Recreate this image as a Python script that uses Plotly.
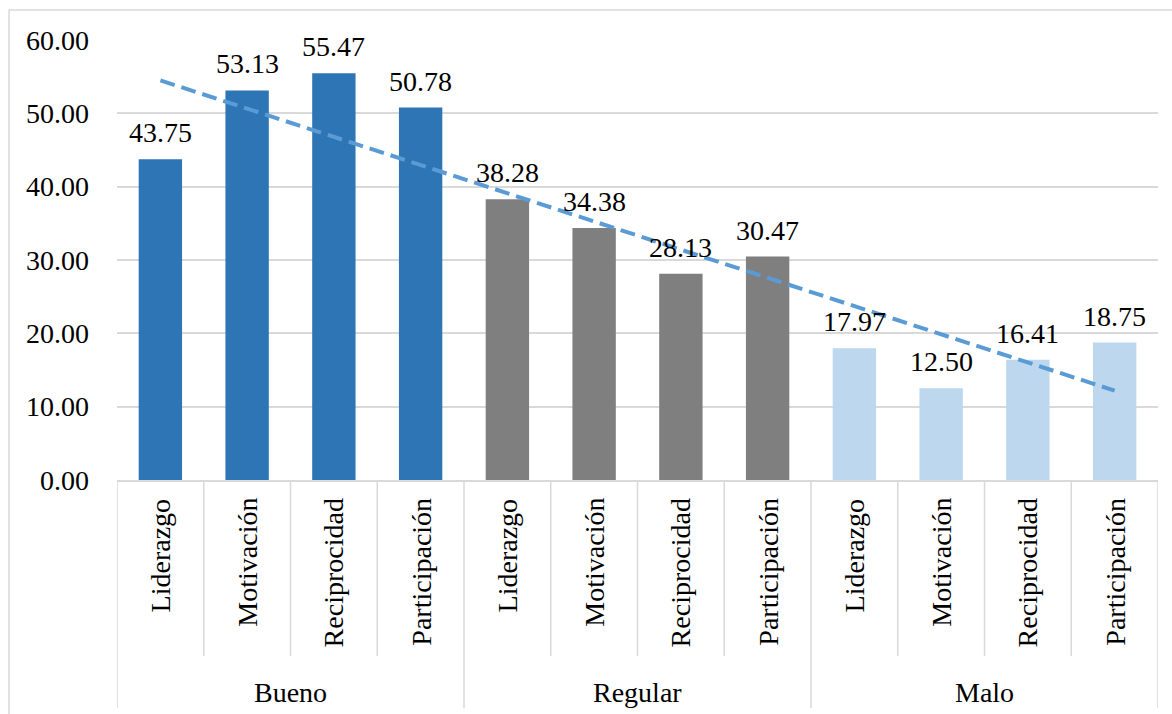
import numpy as np
import plotly.graph_objects as go

groups = ["Bueno", "Regular", "Malo"]
dimensions = ["Liderazgo", "Motivación", "Reciprocidad", "Participación"]
bueno = [43.75, 53.13, 55.47, 50.78]
regular = [38.28, 34.38, 28.13, 30.47]
malo = [17.97, 12.50, 16.41, 18.75]
y_ticks = [0, 10, 20, 30, 40, 50, 60]

group_colors = {"Bueno": "#2E75B6", "Regular": "#7F7F7F", "Malo": "#BDD7EE"}
series = {"Bueno": bueno, "Regular": regular, "Malo": malo}

FONT = "Liberation Serif, Times New Roman, serif"
FS = 28
GRID = "#D9D9D9"

fig = go.Figure()

all_vals = []
n_dim = len(dimensions)
for gi, g in enumerate(groups):
    xs = [gi * n_dim + k for k in range(n_dim)]
    vals = series[g]
    all_vals += vals
    fig.add_trace(go.Bar(x=xs, y=vals, marker_color=group_colors[g],
                         marker_line_width=0, width=0.5, showlegend=False,
                         hoverinfo="skip"))

xs_all = np.arange(len(all_vals))
coef = np.polyfit(xs_all, np.array(all_vals), 1)
trend = np.polyval(coef, xs_all)
fig.add_trace(go.Scatter(x=[xs_all[0], xs_all[-1]], y=[trend[0], trend[-1]],
                         mode="lines", line=dict(color="#5B9BD5", width=4, dash="15px,7px"),
                         showlegend=False, hoverinfo="skip"))

# data labels
for i, v in enumerate(all_vals):
    fig.add_annotation(x=i, y=v, text=f"{v:.2f}", showarrow=False,
                       xref="x", yref="y", yanchor="bottom", yshift=9,
                       font=dict(family=FONT, size=FS, color="black"))

# category labels (rotated)
for i in range(len(all_vals)):
    fig.add_annotation(x=i, y=0, xref="x", yref="paper", text=dimensions[i % n_dim],
                       textangle=-90, showarrow=False, yanchor="top", yshift=-16,
                       font=dict(family=FONT, size=FS, color="black"))

# group labels
for gi, g in enumerate(groups):
    fig.add_annotation(x=gi * n_dim + (n_dim - 1) / 2, y=-0.484, xref="x", yref="paper",
                       text=g, showarrow=False, yanchor="middle",
                       font=dict(family=FONT, size=FS, color="black"))

# separators
for i in range(len(all_vals) + 1):
    xpos = i - 0.5
    is_group = (i % n_dim == 0)
    fig.add_shape(type="line", xref="x", yref="paper", x0=xpos, x1=xpos,
                  y0=0, y1=-0.518 if is_group else -0.40,
                  line=dict(color=GRID, width=1.5))

# outer frame
fig.add_shape(type="rect", xref="paper", yref="paper", x0=-0.1037, x1=1.02,
              y0=-0.56, y1=1.068, line=dict(color=GRID, width=1.5), layer="below")

fig.update_layout(
    width=1172, height=714,
    margin=dict(l=117, r=14, t=40, b=234),
    plot_bgcolor="white", paper_bgcolor="white",
    bargap=0.5,
    font=dict(family=FONT, size=FS, color="black"),
    xaxis=dict(range=[-0.5, len(all_vals) - 0.5], showticklabels=False, showgrid=False,
               zeroline=False, showline=True, linecolor=GRID, linewidth=1.5, ticks=""),
    yaxis=dict(range=[0, 60], tickvals=y_ticks, ticktext=[f"{t:.2f}" for t in y_ticks],
               showgrid=True, gridcolor=GRID, gridwidth=1.5, zeroline=False,
               showline=False, ticks="", ticklabelstandoff=27,
               tickfont=dict(family=FONT, size=FS, color="black")),
)

fig.write_html("out.html")
